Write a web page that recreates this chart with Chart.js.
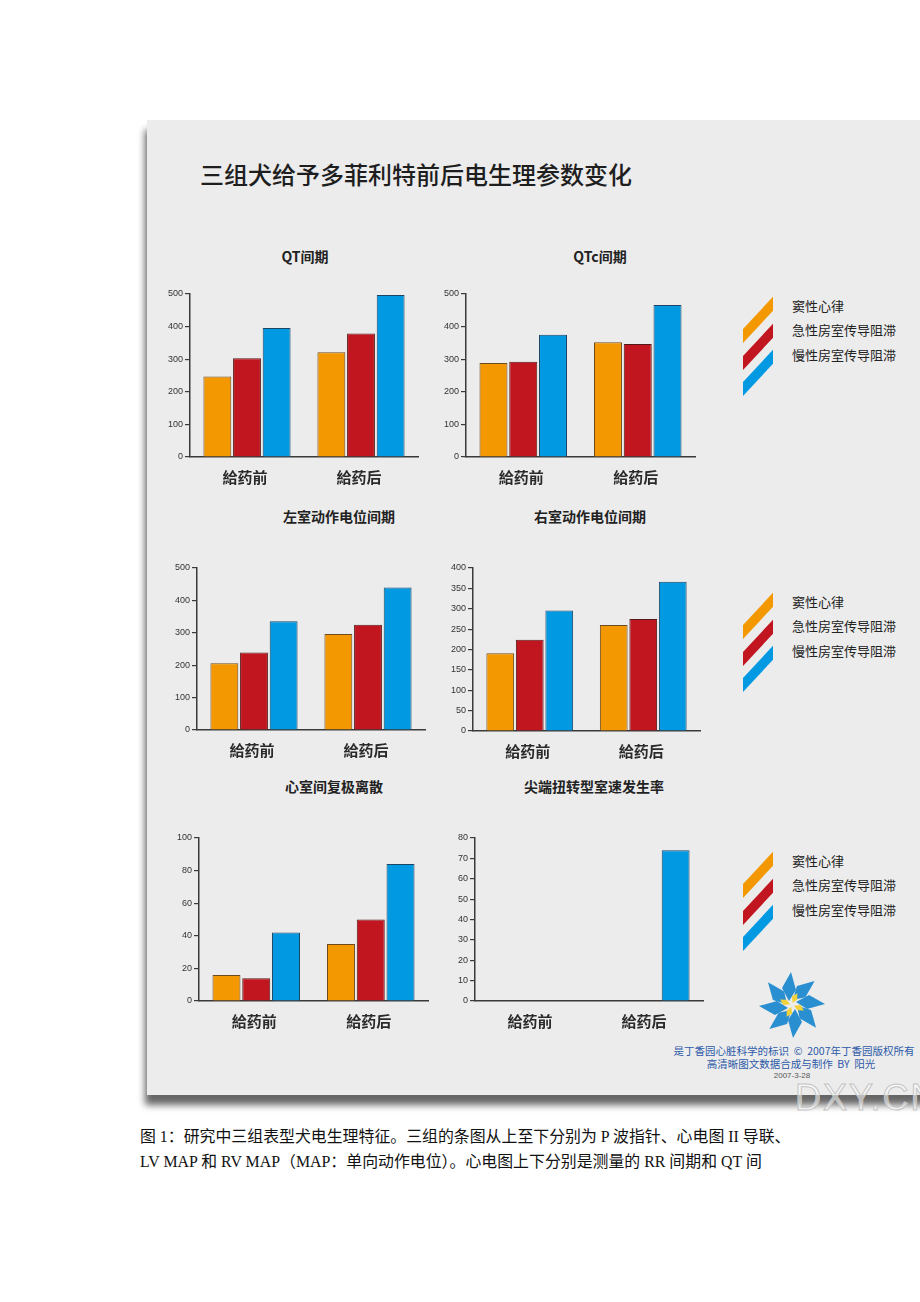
<!DOCTYPE html>
<html lang="zh">
<head>
<meta charset="utf-8">
<title>三组犬给予多菲利特前后电生理参数变化</title>
<script src="https://cdn.jsdelivr.net/npm/chart.js@4.4.1/dist/chart.umd.min.js"></script>
<style>
  html, body { margin: 0; padding: 0; background: #fff; }
  body { position: relative; width: 920px; height: 1302px; overflow: hidden;
         font-family: "Noto Sans CJK SC", "Noto Sans", sans-serif; color: #222; }
  #panel { position: absolute; left: 147px; top: 120px; width: 790px; height: 975px;
           background: #ececec; box-shadow: -2px 10px 7px rgba(0,0,0,0.6); }
  .lbl { position: absolute; white-space: nowrap; line-height: 1; }
  .ctr { transform: translateX(-50%); }
  .title { font-size: 24px; font-weight: 500; color: #1e1e1e; }
  .ctitle { font-size: 14px; font-weight: bold; color: #222; }
  .leg { font-size: 13px; color: #222; }
  .stripe { position: absolute; width: 30px; height: 14px; transform-origin: 0 100%; transform: skewY(-47deg); }
  canvas { position: absolute; }
  .copy { font-size: 10.5px; color: #2d5aa8; }
  .date { font-size: 8px; color: #555; font-family: "Liberation Sans", sans-serif; }
  .mark { font-family: "Liberation Sans", sans-serif; font-size: 36px; color: rgba(255,255,255,0.55);
          -webkit-text-stroke: 1px #c4c4c4; letter-spacing: 2px; }
  .caption { font-family: "Liberation Serif", "Noto Sans CJK SC", serif; font-size: 15.9px; color: #111; }
</style>
</head>
<body>
<div id="panel"></div>
<div class="lbl title" style="left:200px; top:162px;">三组犬给予多菲利特前后电生理参数变化</div>

<div id="overlay"></div>

<svg id="logo" width="80" height="80" style="position:absolute; left:752px; top:965px;" viewBox="-40 -40 80 80"></svg>
<div class="lbl ctr copy" style="left:794px; top:1046px;">是丁香园心脏科学的标识 &nbsp;© &nbsp;2007年丁香园版权所有</div>
<div class="lbl ctr copy" style="left:791px; top:1059px;">高清晰图文数据合成与制作 &nbsp;BY &nbsp;阳光</div>
<div class="lbl ctr date" style="left:792px; top:1072px;">2007-3-28</div>
<div class="lbl mark" style="left:795px; top:1080px;">DXY.CN</div>

<div class="lbl caption" style="left:140px; top:1129px;">图 1：研究中三组表型犬电生理特征。三组的条图从上至下分别为 P 波指针、心电图 II 导联、</div>
<div class="lbl caption" style="left:140px; top:1154px;">LV MAP 和 RV MAP（MAP：单向动作电位）。心电图上下分别是测量的 RR 间期和 QT 间</div>

<script>
// categories and groups
const categories = ['給药前', '給药后'];
const groupNames = ['窦性心律', '急性房室传导阻滞', '慢性房室传导阻滞'];

// values (sinus, acute AVB, chronic AVB)
const qtSinus = [247, 321];
const qtAcute = [303, 379];
const qtChronic = [396, 497];

const qtcSinus = [288, 352];
const qtcAcute = [292, 347];
const qtcChronic = [375, 466];

const lvSinus = [206, 296];
const lvAcute = [239, 325];
const lvChronic = [336, 440];

const rvSinus = [191, 260];
const rvAcute = [224, 275];
const rvChronic = [296, 366];

const dispSinus = [16, 35];
const dispAcute = [14, 50];
const dispChronic = [42, 84];

const tdpSinus = [0, 0];
const tdpAcute = [0, 0];
const tdpChronic = [0, 74];

// y axis ranges
const yMaxes = [500, 500, 500, 400, 100, 80];
const ySteps = [100, 100, 100, 50, 20, 10];

const chartTitles = ['QT间期', 'QTc间期', '左室动作电位间期', '右室动作电位间期', '心室间复极离散', '尖端扭转型室速发生率'];

// styles
const barColors = ['#f39800', '#c1161f', '#0099e2'];
const barBorders = ['#6e4a22', '#551818', '#1c4464'];
const axisColor = '#3a3a3a';

// plot boxes: y-axis x, plot top, plot right, plot bottom, title centre
const boxes = [
    { x: 190, top: 294, right: 418, bottom: 457, tx: 305, ty: 249 },
    { x: 466, top: 294, right: 695, bottom: 457, tx: 600, ty: 249 },
    { x: 197, top: 568, right: 425, bottom: 730, tx: 339, ty: 509 },
    { x: 473, top: 568, right: 700, bottom: 731, tx: 590, ty: 509 },
    { x: 199, top: 838, right: 428, bottom: 1001, tx: 334, ty: 779 },
    { x: 475, top: 838, right: 703, bottom: 1001, tx: 594, ty: 779 },
];

const allSeries = [
    [qtSinus, qtAcute, qtChronic],
    [qtcSinus, qtcAcute, qtcChronic],
    [lvSinus, lvAcute, lvChronic],
    [rvSinus, rvAcute, rvChronic],
    [dispSinus, dispAcute, dispChronic],
    [tdpSinus, tdpAcute, tdpChronic],
];

const overlay = document.getElementById('overlay');
const Y_W = 40, X_H = 40, PAD_T = 10, PAD_R = 8;

function buildChart(i) {
    const box = boxes[i];
    const canvas = document.createElement('canvas');
    canvas.width = box.right - box.x + Y_W + PAD_R;
    canvas.height = box.bottom - box.top + PAD_T + X_H;
    canvas.style.left = (box.x - Y_W) + 'px';
    canvas.style.top = (box.top - PAD_T) + 'px';
    overlay.appendChild(canvas);

    // chart title
    const t = document.createElement('div');
    t.className = 'lbl ctr ctitle';
    t.style.left = box.tx + 'px';
    t.style.top = box.ty + 'px';
    t.textContent = chartTitles[i];
    overlay.appendChild(t);

    new Chart(canvas.getContext('2d'), {
        type: 'bar',
        data: {
            labels: categories,
            datasets: allSeries[i].map((vals, k) => ({
                label: groupNames[k],
                data: vals,
                backgroundColor: barColors[k],
                borderColor: barBorders[k],
                borderWidth: 1,
                categoryPercentage: 0.78,
                barPercentage: 0.94,
            })),
        },
        options: {
            responsive: false,
            animation: false,
            layout: { padding: { top: PAD_T, right: PAD_R, left: 0, bottom: 0 } },
            plugins: { legend: { display: false }, tooltip: { enabled: false } },
            scales: {
                x: {
                    grid: { drawOnChartArea: false, drawTicks: false },
                    border: { display: true, color: axisColor, width: 1.5 },
                    ticks: {
                        color: '#2a2a2a',
                        font: { size: 15, weight: 'bold', family: '"Noto Sans CJK SC", sans-serif' },
                        padding: 11,
                        labelOffset: -2,
                    },
                    afterFit: s => { s.height = X_H; },
                },
                y: {
                    min: 0,
                    max: yMaxes[i],
                    ticks: {
                        stepSize: ySteps[i],
                        color: '#333',
                        font: { size: 9, family: '"Liberation Sans", sans-serif' },
                        padding: 2,
                    },
                    grid: { drawOnChartArea: false, drawTicks: true, tickLength: 5, color: axisColor, lineWidth: 1.2 },
                    border: { color: axisColor, width: 1.5 },
                    afterFit: s => { s.width = Y_W; },
                },
            },
        },
    });
}

for (let i = 0; i < boxes.length; i++) buildChart(i);

// legends beside each row
const legendRows = [306, 602, 861];
legendRows.forEach(cy => {
    groupNames.forEach((name, k) => {
        const s = document.createElement('div');
        s.className = 'stripe';
        s.style.left = '743px';
        s.style.top = (cy + 23 + k * 26.5) + 'px';
        s.style.background = barColors[k];
        overlay.appendChild(s);

        const l = document.createElement('div');
        l.className = 'lbl leg';
        l.style.left = '792px';
        l.style.top = (cy - 7 + k * 24.3) + 'px';
        l.textContent = name;
        overlay.appendChild(l);
    });
});

// pinwheel logo
const logo = document.getElementById('logo');
let svg = '';
for (let k = 0; k < 8; k++) {
    const a = k * 45;
    svg += `<polygon points="4,-3 17,-10 33,-1 15,4" fill="#2a8fd0" transform="rotate(${a})"/>`;
}
for (let k = 0; k < 4; k++) {
    const a = k * 90 + 20;
    svg += `<polygon points="2,0 8,-3 13,1 7,3" fill="#f2d23a" transform="rotate(${a})"/>`;
}
logo.innerHTML = svg;
</script>
</body>
</html>
